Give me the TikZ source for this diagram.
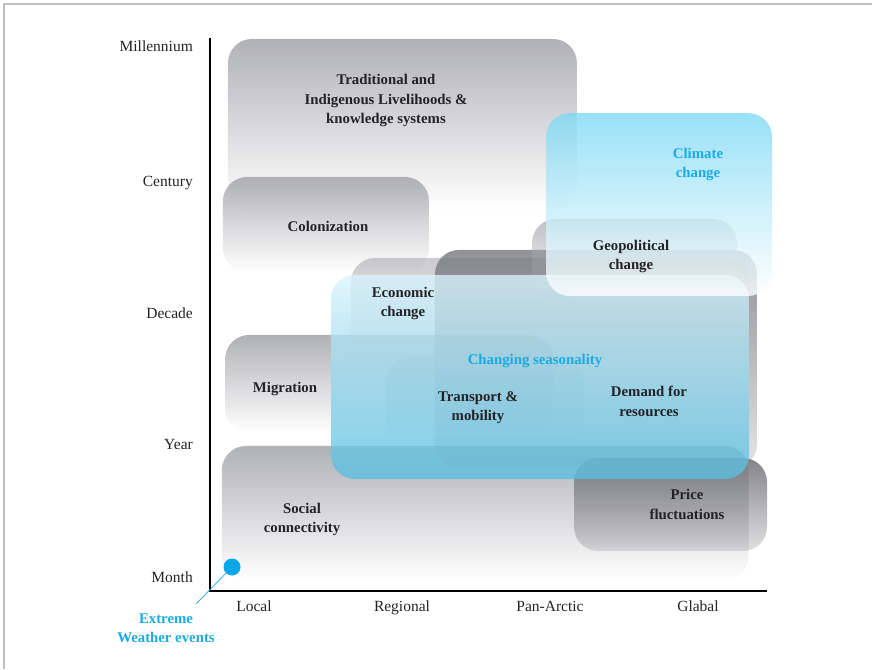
\documentclass[tikz,border=0pt]{standalone}
\usepackage{fontspec}
\setmainfont{Liberation Serif}
\usetikzlibrary{fadings}

\definecolor{boxgray}{RGB}{168,169,174}
\definecolor{deepgray}{RGB}{118,119,124}
\definecolor{skytop}{RGB}{128,217,245}
\definecolor{seasonbot}{RGB}{86,189,224}
\definecolor{labelcyan}{RGB}{28,170,228}
\definecolor{dotcyan}{RGB}{10,166,230}
\definecolor{framegray}{RGB}{192,192,192}
\definecolor{inkgray}{RGB}{35,35,38}

% opaque at the top, transparent at the bottom
\tikzfading[name=fadedown, top color=transparent!0, bottom color=transparent!100]
\tikzfading[name=fadesome, top color=transparent!0, bottom color=transparent!75]

\tikzset{
  band/.style={fill=boxgray, rounded corners=24pt, path fading=fadedown, fill opacity=0.9},
  deepband/.style={fill=deepgray, rounded corners=24pt, path fading=fadesome, fill opacity=0.8},
  lbl/.style={align=center, font=\fontsize{14.8}{19.5}\selectfont\bfseries, text=inkgray, inner sep=0pt, yshift=-1.5pt},
  cyanlbl/.style={lbl, text=labelcyan},
  axlbl/.style={font=\fontsize{15.5}{18}\selectfont, text=inkgray, inner sep=0pt},
}

\begin{document}
\begin{tikzpicture}[x=1pt, y=-1pt]
  \useasboundingbox (0,0) rectangle (872,669);

  % page frame (top and left edges)
  \draw[framegray, line width=1.4pt] (4,669) -- (4,4) -- (872,4);

  % time-scale bands
  \fill[band] (228,39) rectangle (577,210);
  \fill[band] (223,177) rectangle (429,272);
  \fill[band] (222,446) rectangle (749,580);
  \fill[band] (225,335) rectangle (553,432);
  \fill[band, fill opacity=0.6] (351,258) rectangle (750,380);
  \fill[deepband] (435,250) rectangle (757,468);
  \fill[band, fill opacity=0.75] (532,219) rectangle (737,300);
  \fill[band, fill opacity=0.6] (386,357) rectangle (584,447);
  \fill[deepband, fill opacity=0.9] (574,458) rectangle (767,551);

  % climate-driven bands
  \shade[rounded corners=24pt, top color=skytop!30, bottom color=seasonbot, fill opacity=0.78]
    (331,275) rectangle (749,479);
  \shade[rounded corners=24pt, top color=skytop, bottom color=white, fill opacity=0.8]
    (546,113) rectangle (772,296);

  % axes
  \draw[black, line width=1.1pt] (210,38) -- (210,591) -- (767,591);

  % band labels
  \node[lbl] (trad) at (386,99) {Traditional and\\Indigenous Livelihoods \&\\knowledge systems};
  \node[lbl] (colon) at (328,225) {Colonization};
  \node[lbl] (econ) at (403,302) {Economic\\change};
  \node[lbl] (geo) at (631,255) {Geopolitical\\change};
  \node[cyanlbl] (clim) at (698,163) {Climate\\change};
  \node[cyanlbl] (season) at (535,359) {Changing seasonality};
  \node[lbl] (migr) at (285,387) {Migration};
  \node[lbl] (transp) at (478,406) {Transport \&\\mobility};
  \node[lbl] (demand) at (649,400) {Demand for\\resources};
  \node[lbl] (social) at (302,518) {Social\\connectivity};
  \node[lbl] (price) at (687,503) {Price\\fluctuations};

  % time axis labels
  \node[axlbl, anchor=base east] (tmil) at (193,52) {Millennium};
  \node[axlbl, anchor=base east] (tcen) at (193,186) {Century};
  \node[axlbl, anchor=base east] (tdec) at (193,318) {Decade};
  \node[axlbl, anchor=base east] (tyear) at (193,449) {Year};
  \node[axlbl, anchor=base east] (tmon) at (193,582) {Month};

  % spatial axis labels
  \node[axlbl, anchor=base] (slocal) at (254,611) {Local};
  \node[axlbl, anchor=base] (sreg) at (402,611) {Regional};
  \node[axlbl, anchor=base] (span) at (550,611) {Pan-Arctic};
  \node[axlbl, anchor=base] (sglob) at (698,611) {Glabal};

  % extreme weather marker
  \node[circle, fill=dotcyan, minimum size=17pt, inner sep=0pt] (ewdot) at (232,567) {};
  \coordinate (ewend) at (196,604);
  \draw[labelcyan, line width=0.7pt] (ewdot) -- (ewend);
  \node[cyanlbl] (ewlabel) at (166,627) {Extreme\\Weather events};
\end{tikzpicture}
\end{document}
